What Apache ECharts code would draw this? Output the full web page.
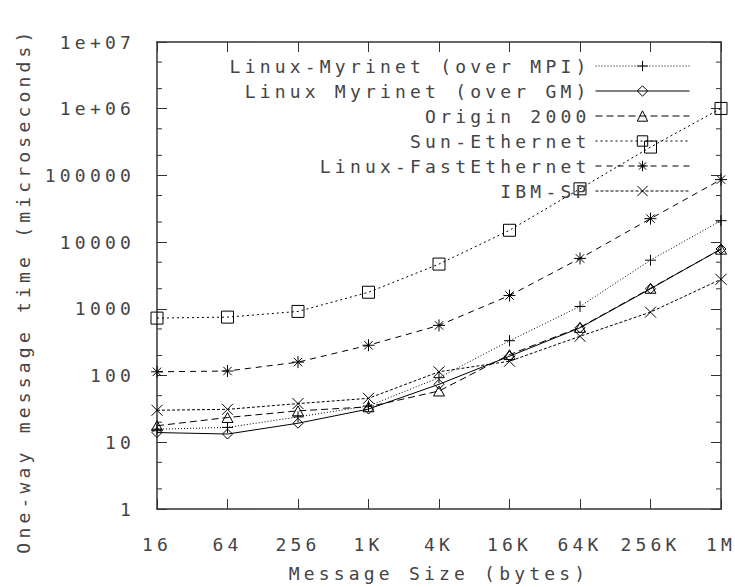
<!DOCTYPE html>
<html>
<head>
<meta charset="utf-8">
<script src="https://cdn.jsdelivr.net/npm/echarts@6/dist/echarts.min.js"></script>
<style>
  html, body { margin: 0; padding: 0; background: #fff; }
  #chart { width: 735px; height: 587px; }
  /* wide, airy lettering for every label */
  #chart text { letter-spacing: 4.2px; }
</style>
</head>
<body>
<div id="chart"></div>
<script>
// Message sizes (x categories) and the y-axis tick labels
const sizes = ['16', '64', '256', '1K', '4K', '16K', '64K', '256K', '1M'];
const yTickLabels = ['1', '10', '100', '1000', '10000', '100000', '1e+06', '1e+07'];

// One-way message time in microseconds, one value per message size
const myrinetMpi   = [15.7, 16.7, 24, 35, 93, 333, 1087, 5370, 21000];
const myrinetGm    = [14, 13.3, 19.3, 31.5, 74, 195, 520, 2000, 7900];
const origin2000   = [17.7, 23.5, 29.6, 34, 58.7, 206, 528, 2034, 7840];
const sunEthernet  = [727, 752, 915, 1774, 4690, 15060, 63000, 266000, 1010000];
const fastEthernet = [114, 117, 159, 285, 565, 1583, 5700, 22500, 86600];
const ibmSp        = [30.2, 31.2, 38, 45.6, 114, 164, 388, 893, 2770];

const FONT = 'DejaVu Sans Mono';
const INK = '#333';
const TEXT_INK = '#444';

const SYM = {
  plus: 'path://M5,0L5,10M0,5L10,5',
  diamond: 'path://M5,0L10,5L5,10L0,5Z',
  triangle: 'path://M5,0L10,9L0,9Z',
  square: 'path://M0,0L10,0L10,10L0,10Z',
  star: 'path://M5,0L5,10M0,5L10,5M1.5,1.5L8.5,8.5M8.5,1.5L1.5,8.5',
  cross: 'path://M0,0L10,10M10,0L0,10'
};

function lineSeries(name, data, symbol, size, dash) {
  return {
    name: name,
    type: 'line',
    data: data,
    xAxisIndex: 0,
    yAxisIndex: 0,
    symbol: symbol,
    symbolSize: size,
    symbolKeepAspect: true,
    showSymbol: true,
    showAllSymbol: true,
    animation: false,
    lineStyle: { color: '#000', width: 1, type: dash },
    itemStyle: { color: 'rgba(0,0,0,0)', borderColor: '#000', borderWidth: 1 },
    emphasis: { disabled: true }
  };
}

const series = [
  lineSeries('Linux-Myrinet (over MPI)', myrinetMpi, SYM.plus, 11, [1, 2]),
  lineSeries('Linux Myrinet (over GM)', myrinetGm, SYM.diamond, 10, 'solid'),
  lineSeries('Origin 2000', origin2000, SYM.triangle, 11, [7, 4]),
  lineSeries('Sun-Ethernet', sunEthernet, SYM.square, 12, [2, 3]),
  lineSeries('Linux-FastEthernet', fastEthernet, SYM.star, 12, [6, 5]),
  lineSeries('IBM-SP', ibmSp, SYM.cross, 11, [3, 2])
];

const labelStyle = { fontFamily: FONT, fontSize: 18, color: TEXT_INK };
const frameLine = { show: true, lineStyle: { color: INK, width: 1.5 } };
const majorTick = { show: true, inside: true, length: 10, lineStyle: { color: INK, width: 1 } };

function yLabel(v) {
  const e = Math.round(Math.log10(v));
  return yTickLabels[e] !== undefined ? yTickLabels[e] : '';
}

const chart = echarts.init(document.getElementById('chart'), null, { renderer: 'svg' });

chart.setOption({
  animation: false,
  backgroundColor: '#fff',
  grid: { left: 157, right: 14, top: 42, bottom: 75, containLabel: false },
  legend: {
    orient: 'vertical',
    right: 45,
    top: 57,
    align: 'right',
    itemWidth: 94,
    itemHeight: 13,
    itemGap: 7,
    padding: 0,
    selectedMode: false,
    lineStyle: { width: 1 },
    itemStyle: { borderWidth: 1 },
    textStyle: labelStyle,
    data: series.map(s => s.name)
  },
  xAxis: [
    {
      type: 'category',
      data: sizes,
      boundaryGap: false,
      position: 'bottom',
      axisLine: frameLine,
      axisTick: majorTick,
      axisLabel: Object.assign({ margin: 26, interval: 0 }, labelStyle),
      splitLine: { show: false },
      name: 'Message Size (bytes)',
      nameLocation: 'middle',
      nameGap: 55,
      nameTextStyle: labelStyle
    },
    {
      type: 'category',
      data: sizes,
      boundaryGap: false,
      position: 'top',
      axisLine: frameLine,
      axisTick: majorTick,
      axisLabel: { show: false },
      splitLine: { show: false }
    }
  ],
  yAxis: [
    {
      type: 'log',
      logBase: 10,
      min: 1,
      max: 1e7,
      splitNumber: 7,
      position: 'left',
      axisLine: frameLine,
      axisTick: majorTick,
      axisLabel: Object.assign({ margin: 22, formatter: yLabel }, labelStyle),
      splitLine: { show: false },
      name: 'One-way message time (microseconds)',
      nameLocation: 'middle',
      nameGap: 125,
      nameTextStyle: Object.assign({ padding: [0, 30, 0, 0] }, labelStyle)
    },
    {
      type: 'log',
      logBase: 10,
      min: 1,
      max: 1e7,
      splitNumber: 7,
      position: 'right',
      axisLine: frameLine,
      axisTick: majorTick,
      axisLabel: { show: false },
      splitLine: { show: false }
    }
  ],
  series: series
});

// Minor ticks at 2x and 5x of every decade, on both vertical sides of the frame
const minorValues = [];
for (let k = 0; k < 7; k++) {
  minorValues.push(2 * Math.pow(10, k), 5 * Math.pow(10, k));
}
const leftX = chart.convertToPixel({ gridIndex: 0 }, [0, 1])[0];
const rightX = chart.convertToPixel({ gridIndex: 0 }, [sizes.length - 1, 1])[0];
const minorTicks = [];
minorValues.forEach(v => {
  const y = chart.convertToPixel({ yAxisIndex: 0 }, v);
  minorTicks.push({
    type: 'line', silent: true,
    shape: { x1: leftX, y1: y, x2: leftX + 5, y2: y },
    style: { stroke: INK, lineWidth: 1 }
  });
  minorTicks.push({
    type: 'line', silent: true,
    shape: { x1: rightX - 5, y1: y, x2: rightX, y2: y },
    style: { stroke: INK, lineWidth: 1 }
  });
});
chart.setOption({ graphic: minorTicks });
</script>
</body>
</html>
